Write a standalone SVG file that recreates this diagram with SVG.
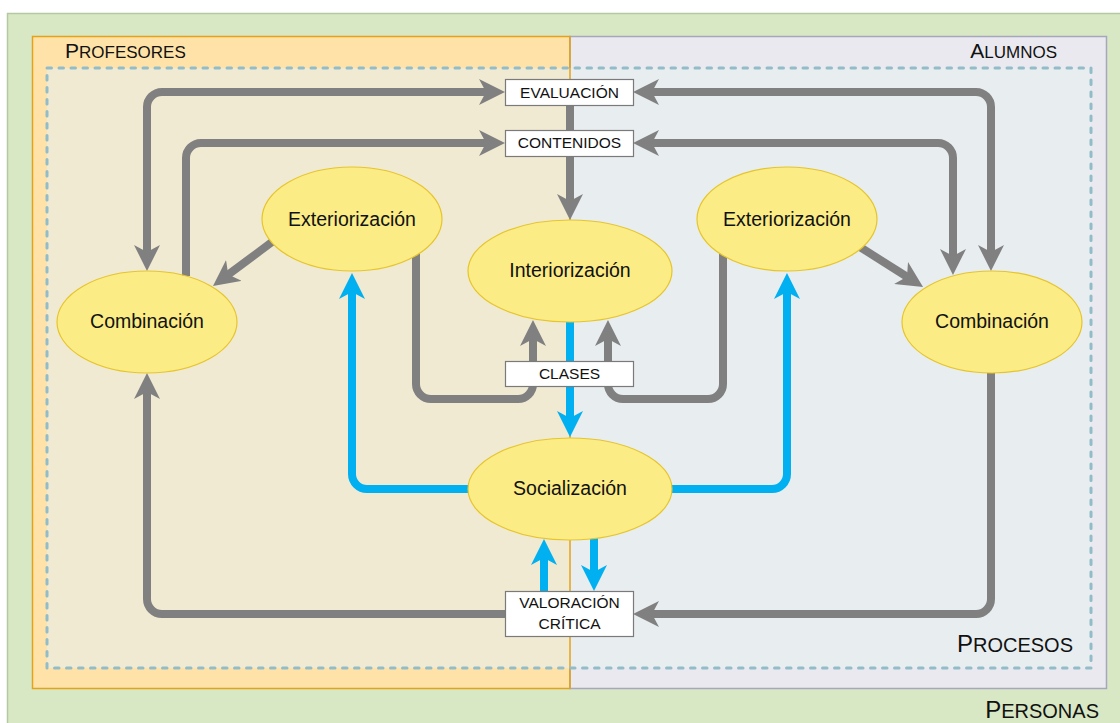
<svg xmlns="http://www.w3.org/2000/svg" width="1120" height="723" viewBox="0 0 1120 723">
<style>
.g{fill:none;stroke:#808080;stroke-width:8}
.b{fill:none;stroke:#00b0f0;stroke-width:8}
.node ellipse{fill:#fbec86;stroke:#e6c52b;stroke-width:1.2}
.node text{font-family:"Liberation Sans",Arial,sans-serif;font-size:19.5px;fill:#111;text-anchor:middle}
.box rect{fill:#fff;stroke:#7a7a7a;stroke-width:1.2}
.box text{font-family:"Liberation Sans",Arial,sans-serif;font-size:15.5px;fill:#111;text-anchor:middle}
.lbl{font-family:"Liberation Sans",Arial,sans-serif;font-size:17px;fill:#111}
.big{font-size:21px}
.lbl2{font-family:"Liberation Sans",Arial,sans-serif;font-size:20px;fill:#111}
.big2{font-size:24px}
</style>
<defs>
<marker id="ag" viewBox="0 0 26 26" refX="14" refY="13" markerWidth="26" markerHeight="26" markerUnits="userSpaceOnUse" orient="auto-start-reverse">
<path d="M0,0 L26,13 L0,26 L7,13 Z" fill="#808080"/>
</marker>
<marker id="ab" viewBox="0 0 26 26" refX="14" refY="13" markerWidth="26" markerHeight="26" markerUnits="userSpaceOnUse" orient="auto-start-reverse">
<path d="M0,0 L26,13 L0,26 L7,13 Z" fill="#00b0f0"/>
</marker>
</defs>
<g id="background">
<rect x="7.5" y="13.5" width="1120" height="720" fill="#d8e8c4" stroke="#b4c99f" stroke-width="1.5"/>
<rect id="profesores" x="32.5" y="36.5" width="537.5" height="652" fill="#fee2a8" stroke="#e3a21a" stroke-width="1.5"/>
<rect id="alumnos" x="570" y="36.5" width="536.5" height="652" fill="#e9e9ef" stroke="#a6a6bd" stroke-width="1.5"/>
<rect x="47" y="68" width="523" height="600" fill="#f1ead3"/>
<rect x="570" y="68" width="521" height="600" fill="#e8edf0"/>
<line x1="570" y1="36" x2="570" y2="689" stroke="#e3a21a" stroke-width="1.5"/>
<rect id="procesos" x="47" y="68" width="1044" height="600" fill="none" stroke="#93bcc9" stroke-width="3" stroke-dasharray="4.5 7.5" stroke-linecap="round"/>
<text class="lbl" x="65" y="58"><tspan class="big">P</tspan>ROFESORES</text>
<text class="lbl" x="1057" y="58" text-anchor="end"><tspan class="big">A</tspan>LUMNOS</text>
<text class="lbl2" x="1073" y="652" text-anchor="end"><tspan class="big2">P</tspan>ROCESOS</text>
<text class="lbl2" x="1099" y="718" text-anchor="end"><tspan class="big2">P</tspan>ERSONAS</text>
</g>
<g id="connectors">
<path class="g" d="M147,259 L147,107 A15,15 0 0 1 162,92 L493,92" marker-start="url(#ag)" marker-end="url(#ag)"/>
<path class="g" d="M186,276 L186,158 A15,15 0 0 1 201,143 L493,143" marker-end="url(#ag)"/>
<path class="g" d="M645,92 L976,92 A15,15 0 0 1 991,107 L991,259" marker-start="url(#ag)" marker-end="url(#ag)"/>
<path class="g" d="M645,143 L938,143 A15,15 0 0 1 953,158 L953,263" marker-start="url(#ag)" marker-end="url(#ag)"/>
<path class="g" d="M570,105 L570,208" marker-end="url(#ag)"/>
<path class="g" d="M280,236 L222.6,278.8" marker-end="url(#ag)"/>
<path class="g" d="M852,242 L912.9,280.5" marker-end="url(#ag)"/>
<path class="g" d="M416,250 L416,384 A15,15 0 0 0 431,399 L518,399 A15,15 0 0 0 533,384 L533,332" marker-end="url(#ag)"/>
<path class="g" d="M723,250 L723,384 A15,15 0 0 1 708,399 L623,399 A15,15 0 0 1 608,384 L608,332" marker-end="url(#ag)"/>
<path class="g" d="M505,614 L162,614 A15,15 0 0 1 147,599 L147,385" marker-end="url(#ag)"/>
<path class="g" d="M991,370 L991,599 A15,15 0 0 1 976,614 L645,614" marker-end="url(#ag)"/>
<path class="b" d="M570,320 L570,425" marker-end="url(#ab)"/>
<path class="b" d="M470,489 L367,489 A15,15 0 0 1 352,474 L352,285" marker-end="url(#ab)"/>
<path class="b" d="M670,489 L772,489 A15,15 0 0 0 787,474 L787,285" marker-end="url(#ab)"/>
<path class="b" d="M544,591 L544,551" marker-end="url(#ab)"/>
<path class="b" d="M594,537 L594,579" marker-end="url(#ab)"/>
</g>
<g id="ext-left" class="node"><ellipse cx="352" cy="219" rx="90" ry="52"/><text x="352" y="226">Exteriorización</text></g>
<g id="ext-right" class="node"><ellipse cx="787" cy="219" rx="90" ry="52"/><text x="787" y="226">Exteriorización</text></g>
<g id="interiorizacion" class="node"><ellipse cx="570" cy="271" rx="102" ry="51"/><text x="570" y="277">Interiorización</text></g>
<g id="comb-left" class="node"><ellipse cx="147" cy="322" rx="90" ry="51"/><text x="147" y="328">Combinación</text></g>
<g id="comb-right" class="node"><ellipse cx="992" cy="322" rx="90" ry="51"/><text x="992" y="328">Combinación</text></g>
<g id="socializacion" class="node"><ellipse cx="570" cy="489" rx="102" ry="51"/><text x="570" y="495">Socialización</text></g>
<g id="evaluacion" class="box"><rect x="505.5" y="79.5" width="128" height="26"/><text x="569.5" y="97.5">EVALUACIÓN</text></g>
<g id="contenidos" class="box"><rect x="505.5" y="130.5" width="128" height="26"/><text x="569.5" y="148">CONTENIDOS</text></g>
<g id="clases" class="box"><rect x="505.5" y="361.5" width="128" height="25"/><text x="569.5" y="379">CLASES</text></g>
<g id="valoracion" class="box"><rect x="505.5" y="591.5" width="128" height="45"/><text x="569.5" y="608">VALORACIÓN</text><text x="569.5" y="628.5">CRÍTICA</text></g>
</svg>
